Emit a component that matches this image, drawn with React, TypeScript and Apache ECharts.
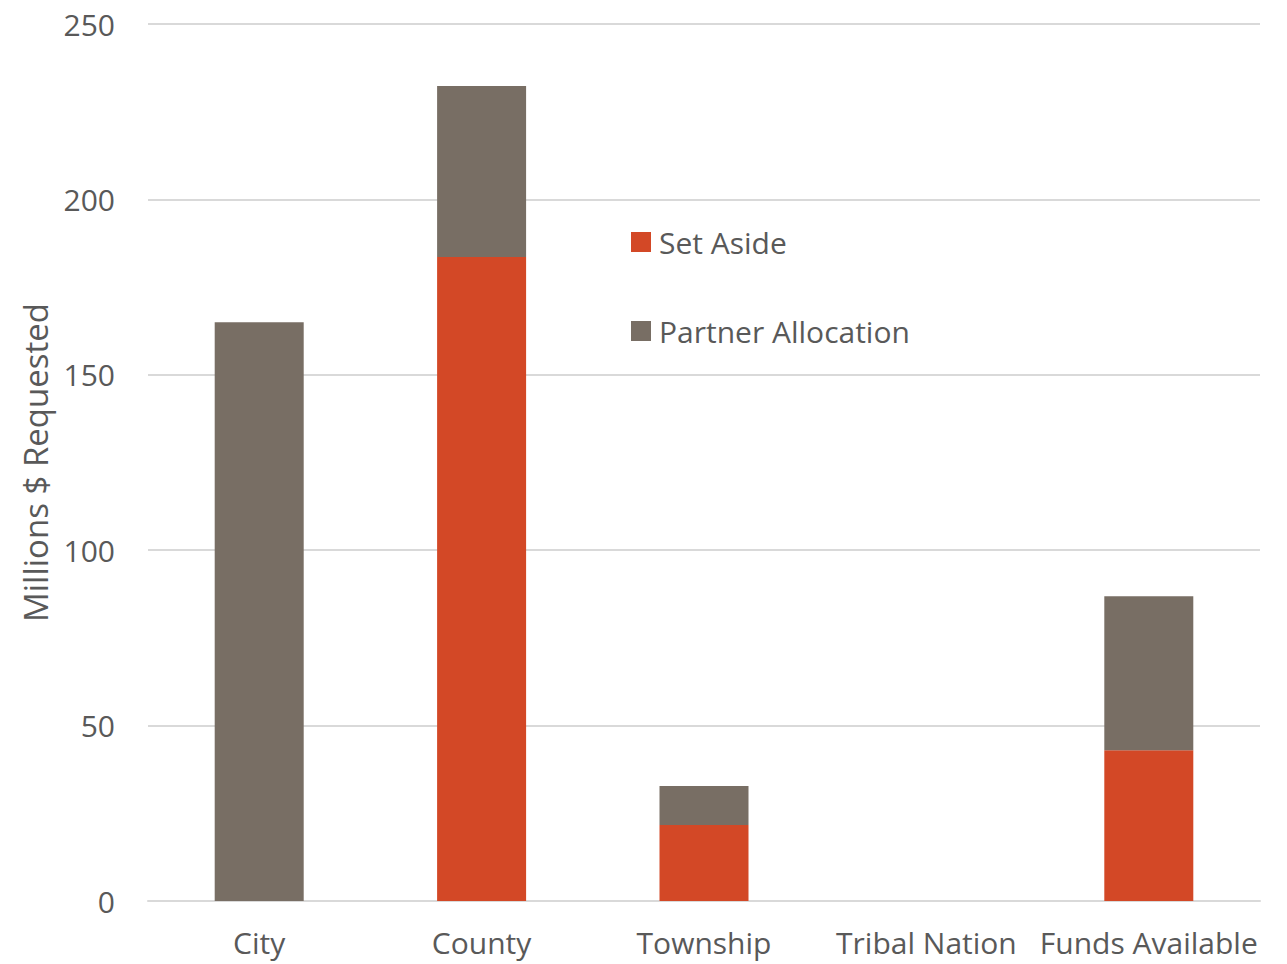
import React, { useEffect, useRef } from "react";
import * as echarts from "echarts";

const categories = ["City", "County", "Township", "Tribal Nation", "Funds Available"];
const setAside = [0, 183.6, 21.7, 0, 43.0];
const partnerAllocation = [165.0, 48.7, 11.1, 0, 43.9];

const FONT = "'Open Sans', 'Noto Sans', sans-serif";
const TEXT = "#595959";

export default function App() {
  const ref = useRef<HTMLDivElement>(null);
  useEffect(() => {
    const chart = echarts.init(ref.current!, undefined, { renderer: "svg" });
    chart.setOption({
      animation: false,
      textStyle: { fontFamily: FONT },
      grid: { left: 148, right: 27, top: 24, bottom: 63, containLabel: false },
      legend: {
        orient: "vertical",
        left: 626,
        top: 222,
        itemWidth: 20,
        itemHeight: 20,
        itemGap: 59,
        icon: "rect",
        textStyle: {
          fontSize: 30,
          color: TEXT,
          fontFamily: FONT,
          lineHeight: 30,
          padding: [0, 0, 0, 3],
        },
        data: ["Set Aside", "Partner Allocation"],
      },
      xAxis: {
        type: "category",
        data: categories,
        axisLine: { lineStyle: { color: "#D9D9D9", width: 2 } },
        axisTick: { show: false },
        axisLabel: { fontSize: 30, color: TEXT, margin: 26, fontFamily: FONT, interval: 0 },
      },
      yAxis: {
        type: "value",
        min: 0,
        max: 250,
        interval: 50,
        name: "Millions $ Requested",
        nameLocation: "middle",
        nameGap: 96,
        nameTextStyle: { fontSize: 33, color: TEXT, fontFamily: FONT },
        axisLine: { show: false },
        axisTick: { show: false },
        axisLabel: { fontSize: 30, color: TEXT, margin: 33, fontFamily: FONT },
        splitLine: { lineStyle: { color: "#D9D9D9", width: 2 } },
      },
      series: [
        {
          name: "Set Aside",
          type: "bar",
          stack: "total",
          barWidth: 89,
          data: setAside,
          itemStyle: { color: "#D34826" },
        },
        {
          name: "Partner Allocation",
          type: "bar",
          stack: "total",
          barWidth: 89,
          data: partnerAllocation,
          itemStyle: { color: "#786E64" },
        },
      ],
    });
    return () => chart.dispose();
  }, []);
  return (
    <div
      ref={ref}
      style={{ position: "fixed", left: 0, top: 0, width: 1287, height: 964, background: "#fff" }}
    />
  );
}
